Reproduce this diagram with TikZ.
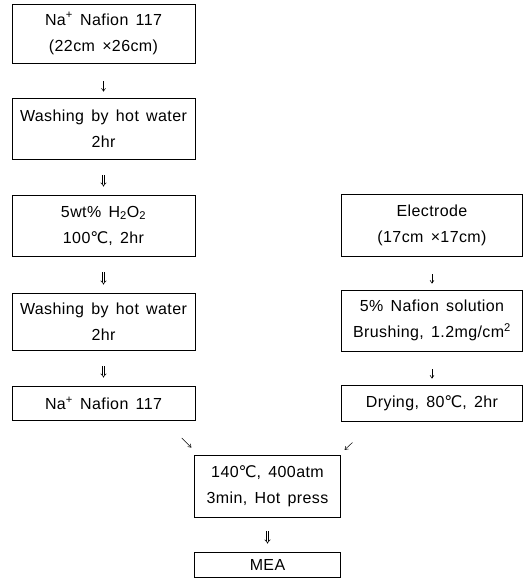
\documentclass[tikz,border=0pt]{standalone}
\usepackage{fontspec}
\setmainfont{Liberation Sans}[LetterSpace=2.5,WordSpace=1.5]
\newfontfamily\degfont{DejaVu Sans}
\newcommand{\degC}{{\degfont ℃}}
\usetikzlibrary{arrows.meta}

\begin{document}
\begin{tikzpicture}[x=1pt,y=-1pt,
    box/.style={draw,line width=0.7pt,align=center,inner sep=0pt,
      font=\fontsize{16}{26}\selectfont},
    arr/.style={-{Straight Barb[length=3pt,width=4pt]},line width=0.5pt,
      shorten <=18pt,shorten >=6pt},
    darr/.style={double,double distance=1.5pt,line width=0.6pt,-{Implies},
      shorten <=16pt,shorten >=8pt}]
  \useasboundingbox (0,0) rectangle (527,587);
  % membrane side
  \node[box,minimum width=183pt,minimum height=59pt] (naf) at (103.5,33.5)
    {Na\textsuperscript{+} Nafion 117\\(22cm ×26cm)};
  \node[box,minimum width=183pt,minimum height=61pt] (wash1) at (103.5,128.5)
    {Washing by hot water\\2hr};
  \node[box,minimum width=183pt,minimum height=61pt] (per) at (103.5,225.5)
    {5wt\% H\textsubscript{2}O\textsubscript{2}\\100\degC, 2hr};
  \node[box,minimum width=183pt,minimum height=57pt] (wash2) at (103.5,321.5)
    {Washing by hot water\\2hr};
  \node[box,minimum width=183pt,minimum height=34pt] (nafb) at (103.5,403)
    {Na\textsuperscript{+} Nafion 117};
  % electrode side
  \node[box,minimum width=181pt,minimum height=62pt] (elec) at (432,225)
    {Electrode\\(17cm ×17cm)};
  \node[box,minimum width=181pt,minimum height=61pt] (sol) at (432,320.5)
    {5\% Nafion solution\\Brushing, 1.2mg/cm\textsuperscript{2}};
  \node[box,minimum width=181pt,minimum height=36pt] (dry) at (432,403)
    {Drying, 80\degC, 2hr};
  % pressing
  \node[box,minimum width=146pt,minimum height=62pt] (hotp) at (267.5,486)
    {140\degC, 400atm\\3min, Hot press};
  \node[box,minimum width=146pt,minimum height=25pt] (mea) at (267.5,564.5)
    {MEA};

  \draw[arr] (naf) -- (wash1);
  \draw[darr] (wash1) -- (per);
  \draw[darr] (per) -- (wash2);
  \draw[darr] (wash2) -- (nafb);
  \draw[arr] (elec) -- (sol);
  \draw[arr] (sol) -- (dry);
  \draw[arr,shorten <=25pt,shorten >=10pt] ([xshift=60.5pt]nafb.south) -- ([xshift=-69pt]hotp.north);
  \draw[arr,shorten <=31pt,shorten >=7pt] ([xshift=-57pt]dry.south) -- ([xshift=72pt]hotp.north);
  \draw[darr,shorten <=14pt,shorten >=8pt] (hotp) -- (mea);
\end{tikzpicture}
\end{document}
